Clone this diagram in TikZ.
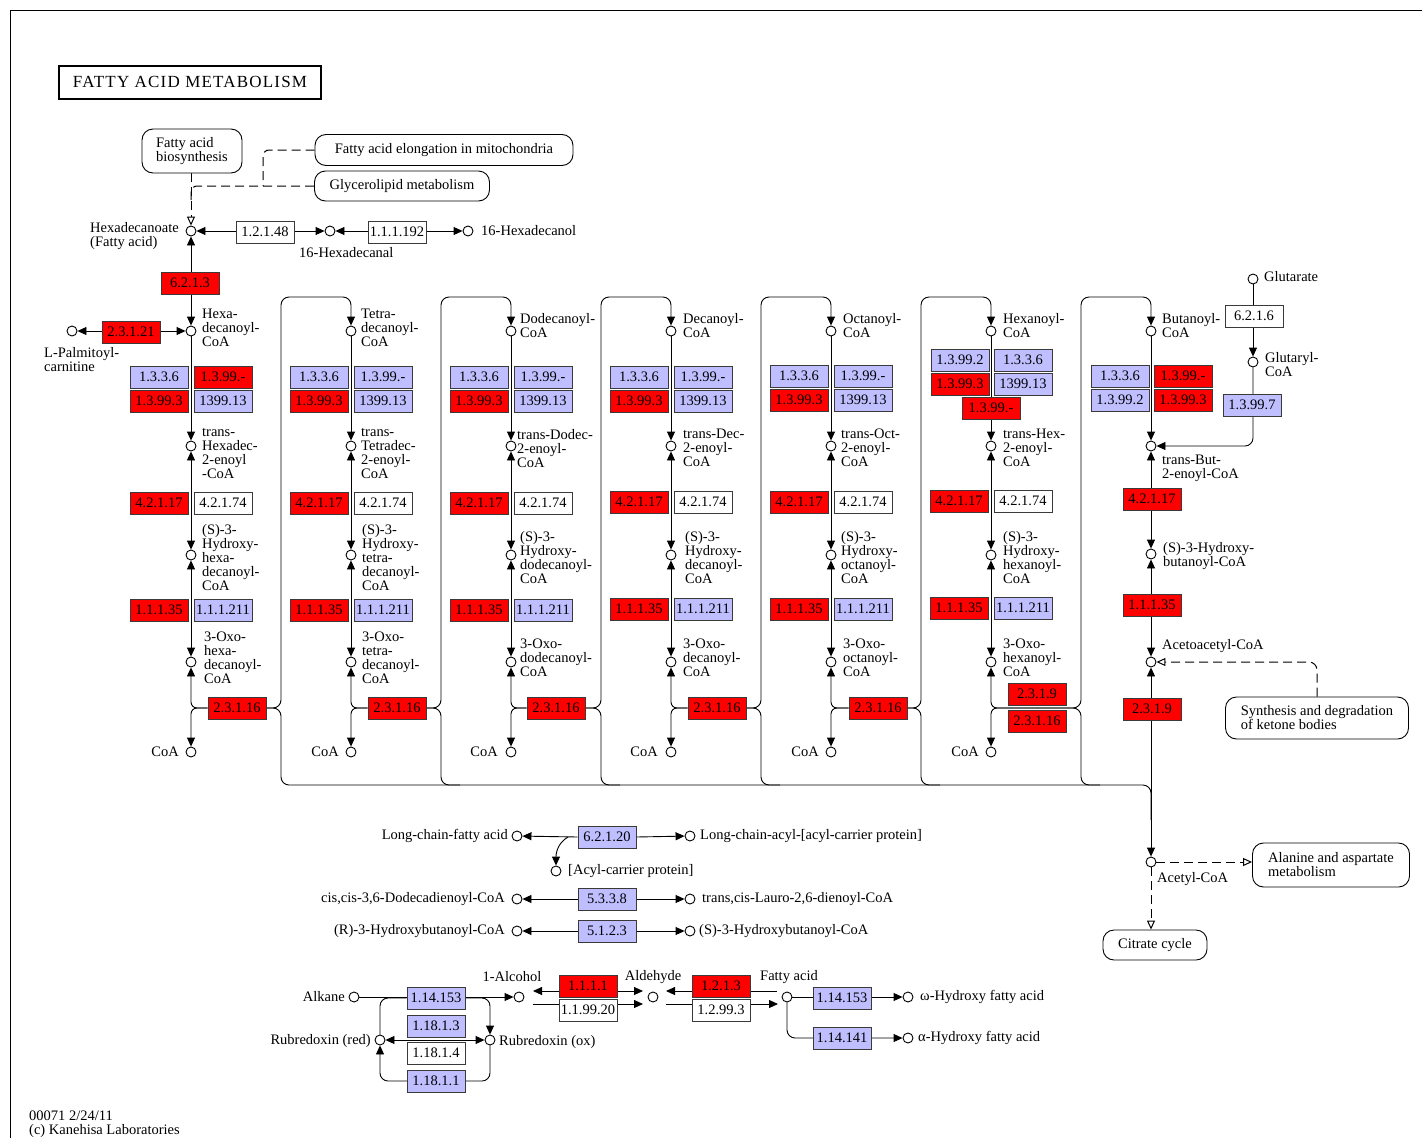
\documentclass[tikz,border=0pt]{standalone}
\usepackage{fontspec}
\setmainfont{Liberation Serif}
\newfontfamily\titleFont[LetterSpace=7]{Liberation Serif}
\usetikzlibrary{arrows.meta,backgrounds}
\definecolor{ecRed}{HTML}{FF0000}
\definecolor{ecBlue}{HTML}{BFBFFF}
\definecolor{edgeGray}{HTML}{3A3A3A}
\tikzset{
  arrow/.style={-{Triangle[length=9pt,width=8pt]}, draw=black, line width=0.9pt},
  biArrow/.style={{Triangle[length=9pt,width=8pt]}-{Triangle[length=9pt,width=8pt]}, draw=black, line width=0.9pt},
  link/.style={draw=black, line width=0.9pt},
  dashLink/.style={draw=black, line width=1pt, dash pattern=on 9pt off 5pt},
  dashArrow/.style={dashLink, -{Triangle[open,length=9pt,width=8pt]}},
  cpd/.style={circle, draw=black, line width=0.9pt, fill=white, minimum size=10pt, inner sep=0pt},
  enz/.style={rectangle, draw=edgeGray, line width=0.8pt, minimum width=58pt, minimum height=22pt, inner sep=0pt},
  enzRed/.style={enz, fill=ecRed},
  enzBlue/.style={enz, fill=ecBlue},
  enzWhite/.style={enz, fill=white},
  mapBox/.style={rectangle, rounded corners=11pt, draw=black, line width=0.9pt, fill=white, align=left, inner xsep=10pt},
  cpdLabel/.style={anchor=north west, align=left, inner sep=0pt},
  sideLabel/.style={inner sep=0pt},
  titleBox/.style={rectangle, draw=black, line width=2pt, minimum width=262pt, minimum height=33pt, font=\titleFont\fontsize{17}{17}\selectfont}
}

\begin{document}
\begin{tikzpicture}[x=1pt,y=-1pt,font=\fontsize{14.5}{14}\selectfont]
\useasboundingbox (0,0) rectangle (1422,1138);

% --------------------------------------------------------------------------
% Title and linked maps
% --------------------------------------------------------------------------
\node[titleBox] (title) at (190,82) {FATTY ACID METABOLISM};
\node[mapBox, minimum width=100pt, minimum height=44pt] (fabBox) at (192,151) {Fatty acid\\biosynthesis};
\node[mapBox, minimum width=258pt, minimum height=31pt] (elongBox) at (444,150) {Fatty acid elongation in mitochondria};
\node[mapBox, minimum width=175pt, minimum height=30pt] (glyBox) at (402,186) {Glycerolipid metabolism};

% --------------------------------------------------------------------------
% Hexadecanoate
% --------------------------------------------------------------------------
\node[cpd] (palm) at (191,231) {};
\node[cpdLabel] (palmLbl) at (90,222) {Hexadecanoate\\(Fatty acid)};
\node[enzWhite] (e121048) at (265,232) {1.2.1.48};
\node[cpd] (hdAl) at (330,231) {};
\node[cpdLabel] (hdAlLbl) at (299,247) {16-Hexadecanal};
\node[enzWhite] (e111192) at (397,232) {1.1.1.192};
\node[cpd] (hdOl) at (468,231) {};
\node[sideLabel, anchor=west] (hdOlLbl) at (481,231) {16-Hexadecanol};
\node[enzRed] (e6213) at (190,283) {6.2.1.3};
\node[cpd] (palmCarn) at (72,331) {};
\node[cpdLabel] (palmCarnLbl) at (44,347) {L-Palmitoyl-\\carnitine};
\node[enzRed] (e23121) at (131,332) {2.3.1.21};

% --------------------------------------------------------------------------
% Column 1 -- C16
% --------------------------------------------------------------------------
\node[cpd] (c1Acyl) at (191,331) {};
\node[cpdLabel] (c1AcylLbl) at (202,309) {Hexa-\\decanoyl-\\CoA};
\node[enzBlue] (c1DhA) at (159,377) {1.3.3.6};
\node[enzRed] (c1DhB) at (223,377) {1.3.99.-};
\node[enzRed] (c1DhC) at (159,401) {1.3.99.3};
\node[enzBlue] (c1DhD) at (223,401) {1399.13};
\node[cpd] (c1Enoyl) at (191,446) {};
\node[cpdLabel] (c1EnoylLbl) at (202,428) {trans-\\Hexadec-\\2-enoyl\\-CoA};
\node[enzRed] (c1HtA) at (159,503) {4.2.1.17};
\node[enzWhite] (c1HtB) at (223,503) {4.2.1.74};
\node[cpd] (c1Hydroxy) at (191,555) {};
\node[cpdLabel] (c1HydroxyLbl) at (202,524) {(S)-3-\\Hydroxy-\\hexa-\\decanoyl-\\CoA};
\node[enzRed] (c1HdA) at (159,610) {1.1.1.35};
\node[enzBlue] (c1HdB) at (223,610) {1.1.1.211};
\node[cpd] (c1Oxo) at (191,662) {};
\node[cpdLabel] (c1OxoLbl) at (204,632) {3-Oxo-\\hexa-\\decanoyl-\\CoA};
\node[enzRed] (c1Th) at (237,708) {2.3.1.16};
\node[cpd] (c1CoA) at (191,752) {};
\node[sideLabel, anchor=east] (c1CoALbl) at (179,752) {CoA};

% --------------------------------------------------------------------------
% Column 2 -- C14
% --------------------------------------------------------------------------
\node[cpd] (c2Acyl) at (351,331) {};
\node[cpdLabel] (c2AcylLbl) at (361,309) {Tetra-\\decanoyl-\\CoA};
\node[enzBlue] (c2DhA) at (319,377) {1.3.3.6};
\node[enzBlue] (c2DhB) at (383,377) {1.3.99.-};
\node[enzRed] (c2DhC) at (319,401) {1.3.99.3};
\node[enzBlue] (c2DhD) at (383,401) {1399.13};
\node[cpd] (c2Enoyl) at (351,446) {};
\node[cpdLabel] (c2EnoylLbl) at (361,428) {trans-\\Tetradec-\\2-enoyl-\\CoA};
\node[enzRed] (c2HtA) at (319,503) {4.2.1.17};
\node[enzWhite] (c2HtB) at (383,503) {4.2.1.74};
\node[cpd] (c2Hydroxy) at (351,555) {};
\node[cpdLabel] (c2HydroxyLbl) at (362,524) {(S)-3-\\Hydroxy-\\tetra-\\decanoyl-\\CoA};
\node[enzRed] (c2HdA) at (319,610) {1.1.1.35};
\node[enzBlue] (c2HdB) at (383,610) {1.1.1.211};
\node[cpd] (c2Oxo) at (351,662) {};
\node[cpdLabel] (c2OxoLbl) at (362,632) {3-Oxo-\\tetra-\\decanoyl-\\CoA};
\node[enzRed] (c2Th) at (397,708) {2.3.1.16};
\node[cpd] (c2CoA) at (351,752) {};
\node[sideLabel, anchor=east] (c2CoALbl) at (339,752) {CoA};

% --------------------------------------------------------------------------
% Column 3 -- C12
% --------------------------------------------------------------------------
\node[cpd] (c3Acyl) at (511,331) {};
\node[cpdLabel] (c3AcylLbl) at (520,313) {Dodecanoyl-\\CoA};
\node[enzBlue] (c3DhA) at (479,377) {1.3.3.6};
\node[enzBlue] (c3DhB) at (543,377) {1.3.99.-};
\node[enzRed] (c3DhC) at (479,401) {1.3.99.3};
\node[enzBlue] (c3DhD) at (543,401) {1399.13};
\node[cpd] (c3Enoyl) at (511,446) {};
\node[cpdLabel] (c3EnoylLbl) at (517,429) {trans-Dodec-\\2-enoyl-\\CoA};
\node[enzRed] (c3HtA) at (479,503) {4.2.1.17};
\node[enzWhite] (c3HtB) at (543,503) {4.2.1.74};
\node[cpd] (c3Hydroxy) at (511,555) {};
\node[cpdLabel] (c3HydroxyLbl) at (520,531) {(S)-3-\\Hydroxy-\\dodecanoyl-\\CoA};
\node[enzRed] (c3HdA) at (479,610) {1.1.1.35};
\node[enzBlue] (c3HdB) at (543,610) {1.1.1.211};
\node[cpd] (c3Oxo) at (511,662) {};
\node[cpdLabel] (c3OxoLbl) at (520,639) {3-Oxo-\\dodecanoyl-\\CoA};
\node[enzRed] (c3Th) at (556,708) {2.3.1.16};
\node[cpd] (c3CoA) at (511,752) {};
\node[sideLabel, anchor=east] (c3CoALbl) at (498,752) {CoA};

% --------------------------------------------------------------------------
% Column 4 -- C10
% --------------------------------------------------------------------------
\node[cpd] (c4Acyl) at (671,331) {};
\node[cpdLabel] (c4AcylLbl) at (683,313) {Decanoyl-\\CoA};
\node[enzBlue] (c4DhA) at (639,377) {1.3.3.6};
\node[enzBlue] (c4DhB) at (703,377) {1.3.99.-};
\node[enzRed] (c4DhC) at (639,401) {1.3.99.3};
\node[enzBlue] (c4DhD) at (703,401) {1399.13};
\node[cpd] (c4Enoyl) at (671,446) {};
\node[cpdLabel] (c4EnoylLbl) at (683,429) {trans-Dec-\\2-enoyl-\\CoA};
\node[enzRed] (c4HtA) at (639,502) {4.2.1.17};
\node[enzWhite] (c4HtB) at (703,502) {4.2.1.74};
\node[cpd] (c4Hydroxy) at (671,555) {};
\node[cpdLabel] (c4HydroxyLbl) at (685,531) {(S)-3-\\Hydroxy-\\decanoyl-\\CoA};
\node[enzRed] (c4HdA) at (639,609) {1.1.1.35};
\node[enzBlue] (c4HdB) at (703,609) {1.1.1.211};
\node[cpd] (c4Oxo) at (671,662) {};
\node[cpdLabel] (c4OxoLbl) at (683,639) {3-Oxo-\\decanoyl-\\CoA};
\node[enzRed] (c4Th) at (717,708) {2.3.1.16};
\node[cpd] (c4CoA) at (671,752) {};
\node[sideLabel, anchor=east] (c4CoALbl) at (658,752) {CoA};

% --------------------------------------------------------------------------
% Column 5 -- C8
% --------------------------------------------------------------------------
\node[cpd] (c5Acyl) at (831,331) {};
\node[cpdLabel] (c5AcylLbl) at (843,313) {Octanoyl-\\CoA};
\node[enzBlue] (c5DhA) at (799,376) {1.3.3.6};
\node[enzBlue] (c5DhB) at (863,376) {1.3.99.-};
\node[enzRed] (c5DhC) at (799,400) {1.3.99.3};
\node[enzBlue] (c5DhD) at (863,400) {1399.13};
\node[cpd] (c5Enoyl) at (831,446) {};
\node[cpdLabel] (c5EnoylLbl) at (841,429) {trans-Oct-\\2-enoyl-\\CoA};
\node[enzRed] (c5HtA) at (799,502) {4.2.1.17};
\node[enzWhite] (c5HtB) at (863,502) {4.2.1.74};
\node[cpd] (c5Hydroxy) at (831,555) {};
\node[cpdLabel] (c5HydroxyLbl) at (841,531) {(S)-3-\\Hydroxy-\\octanoyl-\\CoA};
\node[enzRed] (c5HdA) at (799,609) {1.1.1.35};
\node[enzBlue] (c5HdB) at (863,609) {1.1.1.211};
\node[cpd] (c5Oxo) at (831,662) {};
\node[cpdLabel] (c5OxoLbl) at (843,639) {3-Oxo-\\octanoyl-\\CoA};
\node[enzRed] (c5Th) at (878,708) {2.3.1.16};
\node[cpd] (c5CoA) at (831,752) {};
\node[sideLabel, anchor=east] (c5CoALbl) at (819,752) {CoA};

% --------------------------------------------------------------------------
% Column 6 -- C6
% --------------------------------------------------------------------------
\node[cpd] (c6Acyl) at (991,331) {};
\node[cpdLabel] (c6AcylLbl) at (1003,313) {Hexanoyl-\\CoA};
\node[enzBlue] (c6DhA) at (960,360) {1.3.99.2};
\node[enzBlue] (c6DhB) at (1023,360) {1.3.3.6};
\node[enzRed] (c6DhC) at (960,384) {1.3.99.3};
\node[enzBlue] (c6DhD) at (1023,384) {1399.13};
\node[enzRed] (c6DhE) at (991,408) {1.3.99.-};
\node[cpd] (c6Enoyl) at (991,446) {};
\node[cpdLabel] (c6EnoylLbl) at (1003,429) {trans-Hex-\\2-enoyl-\\CoA};
\node[enzRed] (c6HtA) at (959,501) {4.2.1.17};
\node[enzWhite] (c6HtB) at (1023,501) {4.2.1.74};
\node[cpd] (c6Hydroxy) at (991,555) {};
\node[cpdLabel] (c6HydroxyLbl) at (1003,531) {(S)-3-\\Hydroxy-\\hexanoyl-\\CoA};
\node[enzRed] (c6HdA) at (959,608) {1.1.1.35};
\node[enzBlue] (c6HdB) at (1023,608) {1.1.1.211};
\node[cpd] (c6Oxo) at (991,662) {};
\node[cpdLabel] (c6OxoLbl) at (1003,639) {3-Oxo-\\hexanoyl-\\CoA};
\node[enzRed] (c6Th9) at (1037,694) {2.3.1.9};
\node[enzRed] (c6Th) at (1037,721) {2.3.1.16};
\coordinate (c6Join) at (1037,708);
\node[cpd] (c6CoA) at (991,752) {};
\node[sideLabel, anchor=east] (c6CoALbl) at (979,752) {CoA};

% --------------------------------------------------------------------------
% Column 7 -- C4, glutarate and acetyl-CoA
% --------------------------------------------------------------------------
\node[cpd] (c7Acyl) at (1151,331) {};
\node[cpdLabel] (c7AcylLbl) at (1162,313) {Butanoyl-\\CoA};
\node[enzBlue] (c7DhA) at (1120,376) {1.3.3.6};
\node[enzRed] (c7DhB) at (1183,376) {1.3.99.-};
\node[enzBlue] (c7DhC) at (1120,400) {1.3.99.2};
\node[enzRed] (c7DhD) at (1183,400) {1.3.99.3};
\node[cpd] (c7Enoyl) at (1151,446) {};
\node[cpdLabel] (c7EnoylLbl) at (1162,455) {trans-But-\\2-enoyl-CoA};
\node[enzRed] (c7Ht) at (1152,499) {4.2.1.17};
\node[cpd] (c7Hydroxy) at (1151,554) {};
\node[cpdLabel] (c7HydroxyLbl) at (1163,542) {(S)-3-Hydroxy-\\butanoyl-CoA};
\node[enzRed] (c7Hd) at (1152,605) {1.1.1.35};
\node[cpd] (c7Acac) at (1151,662) {};
\node[cpdLabel] (c7AcacLbl) at (1162,639) {Acetoacetyl-CoA};
\node[enzRed] (c7Th) at (1152,709) {2.3.1.9};
\node[mapBox, minimum width=183pt, minimum height=42pt] (ketoneBox) at (1317,718) {Synthesis and degradation\\of ketone bodies};

\node[cpd] (glutarate) at (1253,279) {};
\node[sideLabel, anchor=west] (glutarateLbl) at (1264,277) {Glutarate};
\node[enzWhite] (e6216) at (1254,316) {6.2.1.6};
\node[cpd] (glutarylCoA) at (1253,362) {};
\node[cpdLabel] (glutarylCoALbl) at (1265,352) {Glutaryl-\\CoA};
\node[enzBlue] (e13997) at (1252,405) {1.3.99.7};

\node[cpd] (acetylCoA) at (1151,862) {};
\node[cpdLabel] (acetylCoALbl) at (1157,872) {Acetyl-CoA};
\node[mapBox, minimum width=157pt, minimum height=44pt] (alaBox) at (1331,865) {Alanine and aspartate\\metabolism};
\node[mapBox, minimum width=104pt, minimum height=30pt] (citBox) at (1155,945) {Citrate cycle};

% --------------------------------------------------------------------------
% Single reactions
% --------------------------------------------------------------------------
\node[cpd] (lcfa) at (517,836) {};
\node[sideLabel, anchor=east] (lcfaLbl) at (508,836) {Long-chain-fatty acid};
\node[enzBlue] (e62120) at (607,837) {6.2.1.20};
\node[cpd] (lcAcp) at (690,836) {};
\node[sideLabel, anchor=west] (lcAcpLbl) at (700,836) {Long-chain-acyl-[acyl-carrier protein]};
\node[cpd] (acp) at (556,871) {};
\node[sideLabel, anchor=west] (acpLbl) at (568,871) {[Acyl-carrier protein]};
\coordinate (acpTap) at (568,837);

\node[cpd] (ddCoA) at (517,899) {};
\node[sideLabel, anchor=east] (ddCoALbl) at (505,899) {cis,cis-3,6-Dodecadienoyl-CoA};
\node[enzBlue] (e5338) at (607,899) {5.3.3.8};
\node[cpd] (lauroCoA) at (690,899) {};
\node[sideLabel, anchor=west] (lauroCoALbl) at (702,899) {trans,cis-Lauro-2,6-dienoyl-CoA};

\node[cpd] (rHbCoA) at (517,931) {};
\node[sideLabel, anchor=east] (rHbCoALbl) at (505,931) {(R)-3-Hydroxybutanoyl-CoA};
\node[enzBlue] (e5123) at (607,931) {5.1.2.3};
\node[cpd] (sHbCoA) at (690,931) {};
\node[sideLabel, anchor=west] (sHbCoALbl) at (699,931) {(S)-3-Hydroxybutanoyl-CoA};

% --------------------------------------------------------------------------
% Alkane oxidation
% --------------------------------------------------------------------------
\node[cpd] (alkane) at (354,997) {};
\node[sideLabel, anchor=east] (alkaneLbl) at (345,997) {Alkane};
\node[enzBlue] (eAlkHyd) at (436,998) {1.14.153};
\node[cpd] (alcohol) at (519,997) {};
\node[sideLabel] (alcoholLbl) at (512,977) {1-Alcohol};
\node[cpd] (rubRed) at (380,1040) {};
\node[sideLabel, anchor=east] (rubRedLbl) at (371,1041) {Rubredoxin (red)};
\node[cpd] (rubOx) at (490,1040) {};
\node[sideLabel, anchor=west] (rubOxLbl) at (499,1042) {Rubredoxin (ox)};
\node[enzBlue] (eRubA) at (436,1026) {1.18.1.3};
\node[enzWhite] (eRubB) at (436,1053) {1.18.1.4};
\node[enzBlue] (eRubC) at (436,1081) {1.18.1.1};

\node[enzRed] (eAdhA) at (588,986) {1.1.1.1};
\node[enzWhite] (eAdhB) at (588,1010) {1.1.99.20};
\node[cpd] (aldehyde) at (653,997) {};
\node[sideLabel] (aldehydeLbl) at (653,977) {Aldehyde};
\node[enzRed] (eAldA) at (721,986) {1.2.1.3};
\node[enzWhite] (eAldB) at (721,1010) {1.2.99.3};
\node[cpd] (fattyAcid) at (787,997) {};
\node[sideLabel] (fattyAcidLbl) at (789,977) {Fatty acid};
\node[enzBlue] (eOmega) at (842,998) {1.14.153};
\node[cpd] (omegaHfa) at (908,997) {};
\node[sideLabel, anchor=west] (omegaHfaLbl) at (920,997) {ω-Hydroxy fatty acid};
\node[enzBlue] (eAlpha) at (842,1038) {1.14.141};
\node[cpd] (alphaHfa) at (908,1038) {};
\node[sideLabel, anchor=west] (alphaHfaLbl) at (918,1038) {α-Hydroxy fatty acid};

\node[sideLabel, anchor=west] (stamp) at (29,1116) {00071 2/24/11};
\node[sideLabel, anchor=west] (copyright) at (29,1131) {(c) Kanehisa Laboratories};

% --------------------------------------------------------------------------
% Connectors, under the nodes
% --------------------------------------------------------------------------
\begin{pgfonlayer}{background}
\draw[line width=1pt] (10,1138) -- (10,10) -- (1422,10);

\draw[dashArrow] (fabBox.south -| palm) -- (palm);
\draw[dashLink, rounded corners=6pt] (elongBox.west) -- (263,150) -- (263,186);
\draw[dashLink, rounded corners=6pt] (glyBox.west) -- (191,186) -- (191,200);
\draw[biArrow] (palm) -- (hdAl);
\draw[biArrow] (hdAl) -- (hdOl);
\draw[biArrow] (palm) -- (c1Acyl);
\draw[biArrow] (palmCarn) -- (c1Acyl);

% column 1
\draw[arrow] (c1Acyl) -- (c1Enoyl);
\draw[biArrow] (c1Enoyl) -- (c1Hydroxy);
\draw[biArrow] (c1Hydroxy) -- (c1Oxo);
\draw[arrow, rounded corners=6pt] (c1Th.west) -- (191,708) -- (c1Oxo);
\draw[arrow, rounded corners=6pt] (c1Th.west) -- (191,708) -- (c1CoA);
\draw[arrow, rounded corners=8pt] (c1Th.east) -- (281,708) -- (281,297) -- (351,297) -- (c2Acyl);
\draw[link, rounded corners=8pt] (c1Th.east) -- (281,708) -- (281,785) -- (1151,785) -- (1151,820);

% column 2
\draw[arrow] (c2Acyl) -- (c2Enoyl);
\draw[biArrow] (c2Enoyl) -- (c2Hydroxy);
\draw[biArrow] (c2Hydroxy) -- (c2Oxo);
\draw[arrow, rounded corners=6pt] (c2Th.west) -- (351,708) -- (c2Oxo);
\draw[arrow, rounded corners=6pt] (c2Th.west) -- (351,708) -- (c2CoA);
\draw[arrow, rounded corners=8pt] (c2Th.east) -- (441,708) -- (441,297) -- (511,297) -- (c3Acyl);
\draw[link, rounded corners=8pt] (c2Th.east) -- (441,708) -- (441,785) -- (460,785);

% column 3
\draw[arrow] (c3Acyl) -- (c3Enoyl);
\draw[biArrow] (c3Enoyl) -- (c3Hydroxy);
\draw[biArrow] (c3Hydroxy) -- (c3Oxo);
\draw[arrow, rounded corners=6pt] (c3Th.west) -- (511,708) -- (c3Oxo);
\draw[arrow, rounded corners=6pt] (c3Th.west) -- (511,708) -- (c3CoA);
\draw[arrow, rounded corners=8pt] (c3Th.east) -- (601,708) -- (601,297) -- (671,297) -- (c4Acyl);
\draw[link, rounded corners=8pt] (c3Th.east) -- (601,708) -- (601,785) -- (620,785);

% column 4
\draw[arrow] (c4Acyl) -- (c4Enoyl);
\draw[biArrow] (c4Enoyl) -- (c4Hydroxy);
\draw[biArrow] (c4Hydroxy) -- (c4Oxo);
\draw[arrow, rounded corners=6pt] (c4Th.west) -- (671,708) -- (c4Oxo);
\draw[arrow, rounded corners=6pt] (c4Th.west) -- (671,708) -- (c4CoA);
\draw[arrow, rounded corners=8pt] (c4Th.east) -- (761,708) -- (761,297) -- (831,297) -- (c5Acyl);
\draw[link, rounded corners=8pt] (c4Th.east) -- (761,708) -- (761,785) -- (780,785);

% column 5
\draw[arrow] (c5Acyl) -- (c5Enoyl);
\draw[biArrow] (c5Enoyl) -- (c5Hydroxy);
\draw[biArrow] (c5Hydroxy) -- (c5Oxo);
\draw[arrow, rounded corners=6pt] (c5Th.west) -- (831,708) -- (c5Oxo);
\draw[arrow, rounded corners=6pt] (c5Th.west) -- (831,708) -- (c5CoA);
\draw[arrow, rounded corners=8pt] (c5Th.east) -- (921,708) -- (921,297) -- (991,297) -- (c6Acyl);
\draw[link, rounded corners=8pt] (c5Th.east) -- (921,708) -- (921,785) -- (940,785);

% column 6
\draw[arrow] (c6Acyl) -- (c6Enoyl);
\draw[biArrow] (c6Enoyl) -- (c6Hydroxy);
\draw[biArrow] (c6Hydroxy) -- (c6Oxo);
\draw[arrow, rounded corners=6pt] (c6Join) -- (991,708) -- (c6Oxo);
\draw[arrow, rounded corners=6pt] (c6Join) -- (991,708) -- (c6CoA);
\draw[arrow, rounded corners=8pt] (c6Join) -- (1081,708) -- (1081,297) -- (1151,297) -- (c7Acyl);
\draw[link, rounded corners=8pt] (c6Join) -- (1081,708) -- (1081,785) -- (1100,785);

% column 7
\draw[arrow] (c7Acyl) -- (c7Enoyl);
\draw[biArrow] (c7Enoyl) -- (c7Hydroxy);
\draw[biArrow] (c7Hydroxy) -- (c7Acac);
\draw[biArrow] (c7Acac) -- (acetylCoA);
\draw[arrow] (glutarate) -- (glutarylCoA);
\draw[arrow, rounded corners=8pt] (glutarylCoA) |- (c7Enoyl);
\draw[dashArrow, rounded corners=8pt] (ketoneBox.north) |- (c7Acac);
\draw[dashArrow] (acetylCoA) -- (acetylCoA -| alaBox.west);
\draw[dashArrow] (acetylCoA) -- (acetylCoA |- citBox.north);

% single reactions
\draw[arrow] (e62120.west) -- (lcfa);
\draw[arrow] (e62120.east) -- (lcAcp);
\draw[arrow] (acpTap) to[out=-150,in=90] (acp);
\draw[arrow] (e5338.west) -- (ddCoA);
\draw[arrow] (e5338.east) -- (lauroCoA);
\draw[arrow] (e5123.west) -- (rHbCoA);
\draw[arrow] (e5123.east) -- (sHbCoA);

% alkane oxidation
\draw[arrow] (alkane) -- (alcohol);
\draw[link, rounded corners=8pt] (rubRed) |- (eAlkHyd.west);
\draw[arrow, rounded corners=8pt] (eAlkHyd.east) -| (rubOx);
\draw[biArrow] (rubRed) -- (rubOx);
\draw[arrow, rounded corners=8pt] (rubOx) -- (rubOx |- eRubC) -- (rubRed |- eRubC) -- (rubRed);
\draw[biArrow] ([xshift=14pt,yshift=6pt]alcohol.center) -- ([xshift=-10pt,yshift=6pt]aldehyde.center);
\draw[arrow] ([xshift=14pt,yshift=-7pt]alcohol.center) -- ([xshift=-10pt,yshift=-7pt]aldehyde.center);
\draw[arrow] ([xshift=-10pt,yshift=6pt]fattyAcid.center) -- ([xshift=13pt,yshift=6pt]aldehyde.center);
\draw[arrow] ([xshift=13pt,yshift=-7pt]aldehyde.center) -- ([xshift=-9pt,yshift=-7pt]fattyAcid.center);
\draw[arrow] (fattyAcid) -- (omegaHfa);
\draw[arrow, rounded corners=8pt] (fattyAcid) |- (alphaHfa);
\end{pgfonlayer}

\end{tikzpicture}
\end{document}
